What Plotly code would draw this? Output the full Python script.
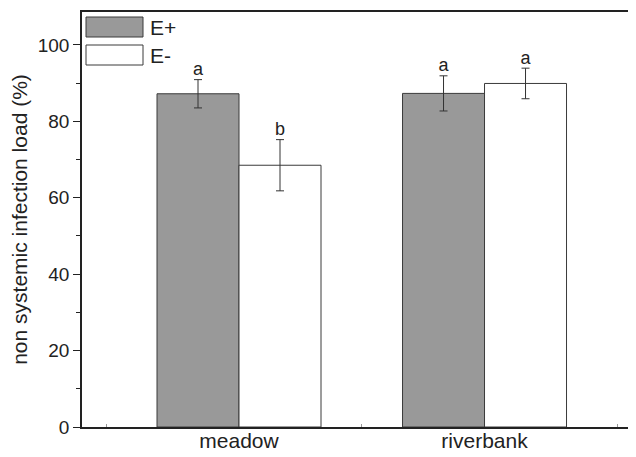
import plotly.graph_objects as go

# ---- data ----
sites = ["meadow", "riverbank"]
site_pos = [1, 2]
e_plus = [87.2, 87.3]
e_plus_err = [3.7, 4.6]
e_minus = [68.5, 89.9]
e_minus_err = [6.7, 4.0]
letters_plus = ["a", "a"]
letters_minus = ["b", "a"]
series_names = ["E+", "E-"]

FONT = "Liberation Sans, Arial, sans-serif"
BW = 0.334
EDGE = "#3a3a3a"

fig = go.Figure()

fig.add_trace(go.Bar(
    x=site_pos, y=e_plus, width=BW, offset=-BW,
    marker=dict(color="#999999", line=dict(color=EDGE, width=1)),
    error_y=dict(type="data", array=e_plus_err, color="#333333", thickness=1, width=4),
    name=series_names[0], showlegend=False,
))
fig.add_trace(go.Bar(
    x=site_pos, y=e_minus, width=BW, offset=0,
    marker=dict(color="#ffffff", line=dict(color=EDGE, width=1)),
    error_y=dict(type="data", array=e_minus_err, color="#333333", thickness=1, width=4),
    name=series_names[1], showlegend=False,
))

# significance letters
fig.add_trace(go.Scatter(
    x=[p - BW / 2 for p in site_pos], y=[v + e for v, e in zip(e_plus, e_plus_err)],
    mode="text", text=letters_plus, textposition="top center",
    textfont=dict(size=18, color="#222", family=FONT), showlegend=False, hoverinfo="skip",
))
fig.add_trace(go.Scatter(
    x=[p + BW / 2 for p in site_pos], y=[v + e for v, e in zip(e_minus, e_minus_err)],
    mode="text", text=letters_minus, textposition="top center",
    textfont=dict(size=18, color="#222", family=FONT), showlegend=False, hoverinfo="skip",
))

# custom legend (large boxes)
legend_fills = ["#999999", "#ffffff"]
for i, (nm, fc) in enumerate(zip(series_names, legend_fills)):
    top = -5 - i * 28
    fig.add_shape(type="rect", xref="paper", yref="paper",
                  xsizemode="pixel", ysizemode="pixel", xanchor=0, yanchor=1,
                  x0=4, x1=61, y0=top, y1=top - 20,
                  fillcolor=fc, line=dict(color=EDGE, width=1))
    fig.add_annotation(xref="paper", yref="paper", x=0, y=1, xanchor="left", yanchor="middle",
                       xshift=66, yshift=top - 10, text=nm, showarrow=False,
                       font=dict(size=21, color="#222", family=FONT))

fig.update_layout(
    width=628, height=449,
    margin=dict(l=74, r=0, t=4, b=30),
    paper_bgcolor="white", plot_bgcolor="white",
    barmode="overlay",
    font=dict(family=FONT, color="#222", size=18),
    xaxis=dict(
        range=[0.3605, 2.617], tickvals=site_pos, ticktext=sites, ticks="",
        showline=True, linecolor="#222", linewidth=1.5, mirror=True,
        showgrid=False, zeroline=False, tickfont=dict(size=21),
        ticklabelstandoff=-6,
        minor=dict(tickvals=[0.46, 1.5, 2.54], ticks="inside", ticklen=3, tickcolor="#999", tickwidth=1),
    ),
    yaxis=dict(
        range=[0, 108.6], tickvals=[0, 20, 40, 60, 80, 100], ticks="outside", ticklen=7,
        tickcolor="#222", tickwidth=1.2,
        showline=True, linecolor="#222", linewidth=1.5, showgrid=False, zeroline=False,
        tickfont=dict(size=19),
        minor=dict(dtick=10, tick0=0, ticks="outside", ticklen=4, tickcolor="#222", tickwidth=1.2),
        title=dict(text="non systemic infection load (%)", font=dict(size=21), standoff=6),
    ),
)

fig.write_html("out.html")
